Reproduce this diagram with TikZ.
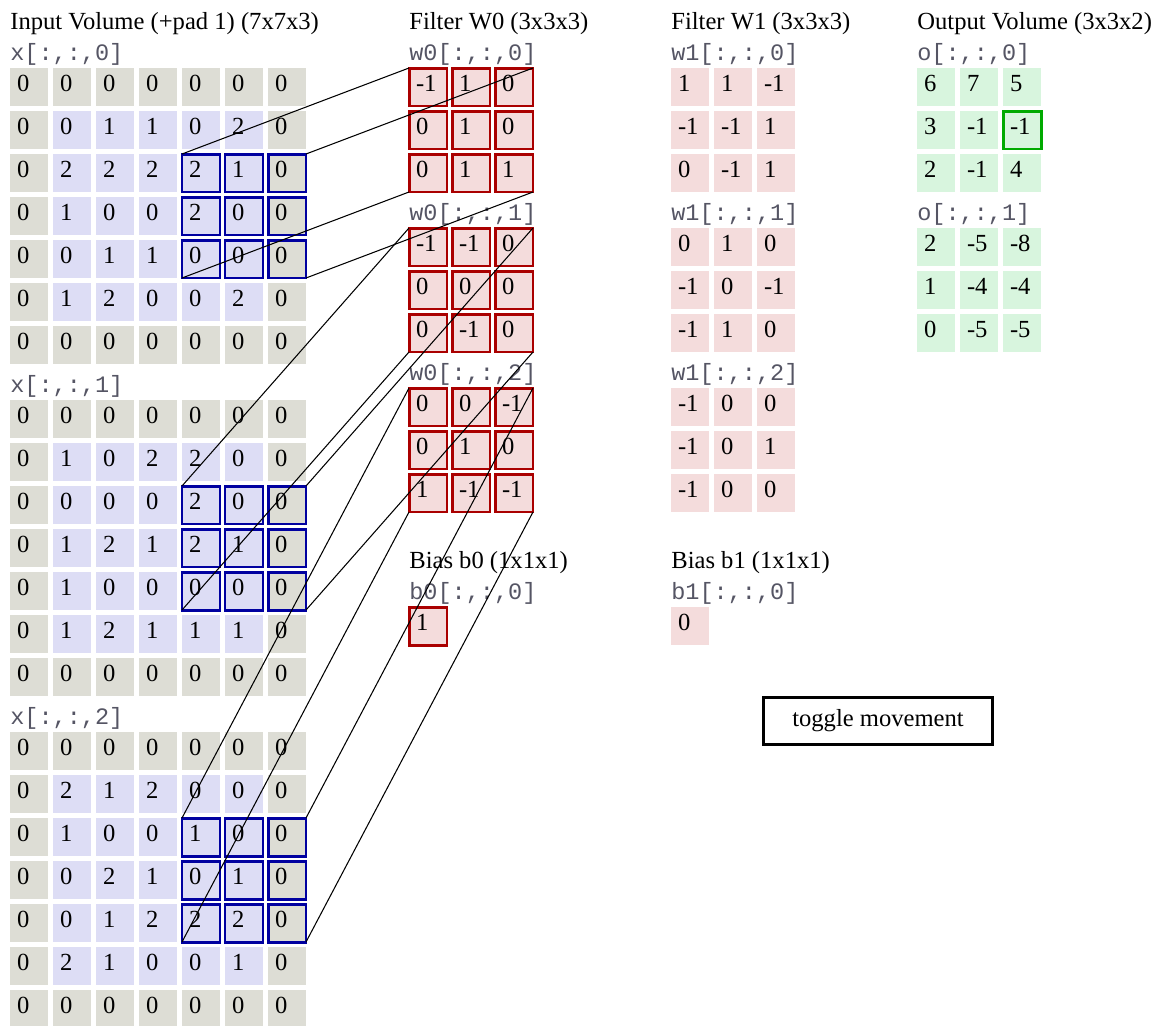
\documentclass[tikz,border=0pt]{standalone}
\usepackage{fontspec}
\setmainfont{Liberation Serif}
\setmonofont{Liberation Mono}

\definecolor{padgray}{RGB}{221,221,213}
\definecolor{inblue}{RGB}{221,221,245}
\definecolor{wpink}{RGB}{244,220,220}
\definecolor{wred}{RGB}{170,0,0}
\definecolor{hlblue}{RGB}{0,0,160}
\definecolor{opgreen}{RGB}{216,245,222}
\definecolor{hlgreen}{RGB}{0,170,0}
\definecolor{labgray}{RGB}{85,85,100}

% one 7x7 slice of the padded input, with its 3x3 receptive field
\newcommand\inslice[3]{%
  \foreach \row [count=\r from 0] in {#3}{
    \foreach \v [count=\c from 0] in \row{
      \pgfmathtruncatemacro\edge{(\r==0)||(\r==6)||(\c==0)||(\c==6)}
      \ifnum\edge=1 \def\cfill{padgray}\else\def\cfill{inblue}\fi
      \node[cell,fill=\cfill] (#1-\r-\c) at ({29+43*\c},{#2+19+43*\r}) {\v};
    }
  }
  \foreach \r in {2,3,4} \foreach \c in {4,5,6}
    \draw[field] (#1-\r-\c.north west) rectangle (#1-\r-\c.south east);
}
% one slice of a filter or of the output
\newcommand\gridslice[5]{%
  \foreach \row [count=\r from 0] in {#5}{
    \foreach \v [count=\c from 0] in \row{
      \node[#4] (#1-\r-\c) at ({#2+19+43*\c},{#3+19+43*\r}) {\v};
    }
  }
}

\begin{document}
\begin{tikzpicture}[x=.02cm,y=-.02cm,font=\fontsize{14}{16}\selectfont,
  cell/.style={rectangle,outer sep=0,inner xsep=.14cm,inner ysep=0,text width=.48cm,
    align=left,minimum height=.76cm,text depth=.14cm},
  field/.style={draw=hlblue,line width=1.7pt},
  wcell/.style={cell,fill=wpink,draw=wred,line width=1.7pt},
  vcell/.style={cell,fill=wpink},
  ocell/.style={cell,fill=opgreen},
  title/.style={anchor=base west,inner sep=0},
  slicelab/.style={anchor=base west,inner sep=0,text=labgray,font=\fontsize{13.4}{15}\ttfamily},
  conn/.style={line width=.6pt}]
  \useasboundingbox (0,0) rectangle (1153,1025);

  % input volume
  \node[title] (tin) at (10,29) {Input Volume (+pad 1) (7x7x3)};
  \node[slicelab] (lx0) at (10,60) {x[:,:,0]};
  \node[slicelab] (lx1) at (10,392) {x[:,:,1]};
  \node[slicelab] (lx2) at (10,724) {x[:,:,2]};
  \inslice{x0}{68}{{0,0,0,0,0,0,0},{0,0,1,1,0,2,0},{0,2,2,2,2,1,0},{0,1,0,0,2,0,0},{0,0,1,1,0,0,0},{0,1,2,0,0,2,0},{0,0,0,0,0,0,0}}
  \inslice{x1}{400}{{0,0,0,0,0,0,0},{0,1,0,2,2,0,0},{0,0,0,0,2,0,0},{0,1,2,1,2,1,0},{0,1,0,0,0,0,0},{0,1,2,1,1,1,0},{0,0,0,0,0,0,0}}
  \inslice{x2}{732}{{0,0,0,0,0,0,0},{0,2,1,2,0,0,0},{0,1,0,0,1,0,0},{0,0,2,1,0,1,0},{0,0,1,2,2,2,0},{0,2,1,0,0,1,0},{0,0,0,0,0,0,0}}

  % filter W0
  \node[title] (tw0) at (409,29) {Filter W0 (3x3x3)};
  \node[slicelab] (lw00) at (409,60) {w0[:,:,0]};
  \node[slicelab] (lw01) at (409,220) {w0[:,:,1]};
  \node[slicelab] (lw02) at (409,380) {w0[:,:,2]};
  \gridslice{w00}{409}{68}{wcell}{{-1,1,0},{0,1,0},{0,1,1}}
  \gridslice{w01}{409}{228}{wcell}{{-1,-1,0},{0,0,0},{0,-1,0}}
  \gridslice{w02}{409}{388}{wcell}{{0,0,-1},{0,1,0},{1,-1,-1}}

  % filter W1
  \node[title] (tw1) at (671,29) {Filter W1 (3x3x3)};
  \node[slicelab] (lw10) at (671,60) {w1[:,:,0]};
  \node[slicelab] (lw11) at (671,220) {w1[:,:,1]};
  \node[slicelab] (lw12) at (671,380) {w1[:,:,2]};
  \gridslice{w10}{671}{68}{vcell}{{1,1,-1},{-1,-1,1},{0,-1,1}}
  \gridslice{w11}{671}{228}{vcell}{{0,1,0},{-1,0,-1},{-1,1,0}}
  \gridslice{w12}{671}{388}{vcell}{{-1,0,0},{-1,0,1},{-1,0,0}}

  % output volume
  \node[title] (tout) at (917,29) {Output Volume (3x3x2)};
  \node[slicelab] (lo0) at (917,60) {o[:,:,0]};
  \node[slicelab] (lo1) at (917,220) {o[:,:,1]};
  \gridslice{o0}{917}{68}{ocell}{{6,7,5},{3,-1,-1},{2,-1,4}}
  \gridslice{o1}{917}{228}{ocell}{{2,-5,-8},{1,-4,-4},{0,-5,-5}}
  \draw[draw=hlgreen,line width=1.7pt] (o0-1-2.north west) rectangle (o0-1-2.south east);

  % biases
  \node[title] (tb0) at (409,568) {Bias b0 (1x1x1)};
  \node[slicelab] (lb0) at (409,599) {b0[:,:,0]};
  \node[wcell] (b0) at (428,626) {1};
  \node[title] (tb1) at (671,568) {Bias b1 (1x1x1)};
  \node[slicelab] (lb1) at (671,599) {b1[:,:,0]};
  \node[vcell] (b1) at (690,626) {0};

  \node[draw,line width=1.7pt,minimum width=4.6cm,minimum height=.94cm,inner sep=0] (toggle) at (878,720.5) {toggle movement};

  % receptive field corners to filter corners
  \foreach \k in {0,1,2}{
    \draw[conn] (x\k-2-4.north west) -- (w0\k-0-0.north west);
    \draw[conn] (x\k-2-6.north east) -- (w0\k-0-2.north east);
    \draw[conn] (x\k-4-4.south west) -- (w0\k-2-0.south west);
    \draw[conn] (x\k-4-6.south east) -- (w0\k-2-2.south east);
  }
\end{tikzpicture}
\end{document}
